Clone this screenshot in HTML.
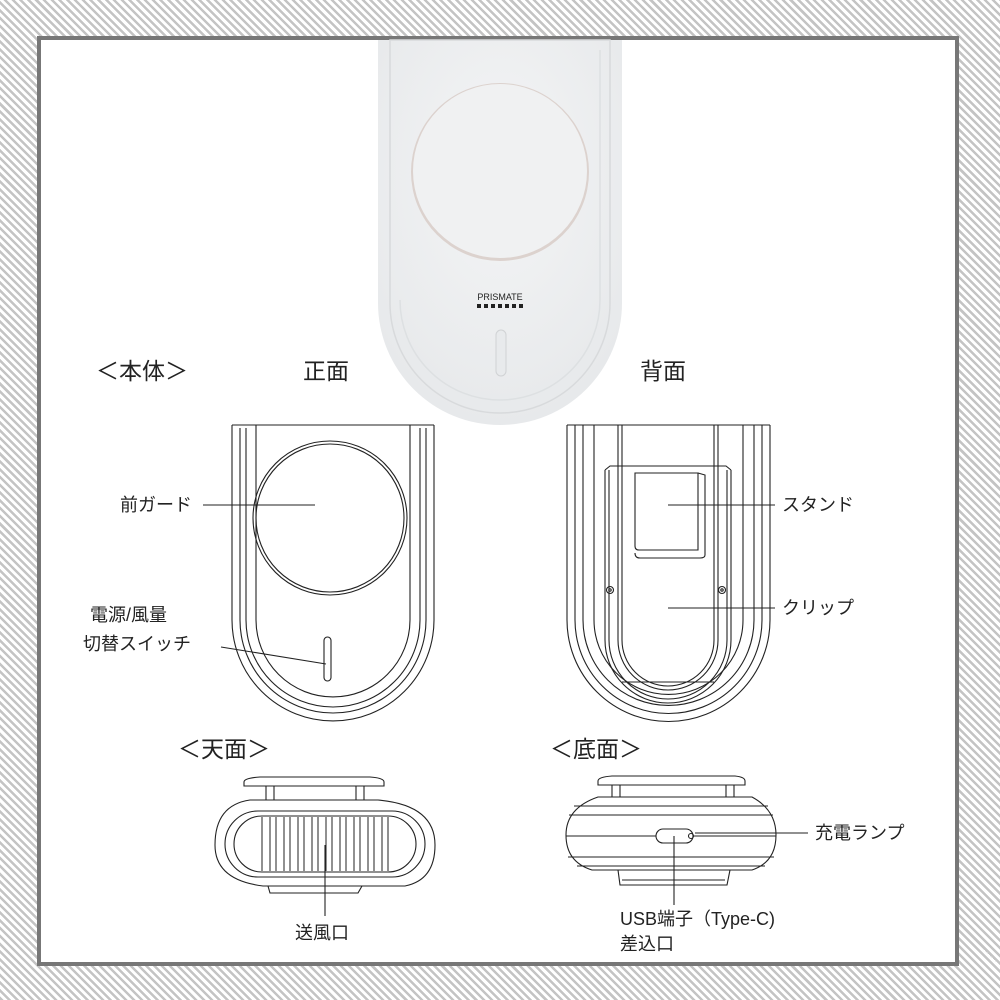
<!DOCTYPE html>
<html><head><meta charset="utf-8"><style>
html,body{margin:0;padding:0;}
body{width:1000px;height:1000px;position:relative;overflow:hidden;
background:repeating-linear-gradient(45deg,#c4c4c4 0 2.5px,#fff 2.5px 5.5px);}
.frame{position:absolute;left:37px;top:36px;width:914px;height:922px;border:4px solid #777;background:#fff;}
svg{position:absolute;left:0;top:0;}
text{font-family:"Liberation Sans","Noto Sans CJK JP",sans-serif;fill:#222;}
</style></head><body>
<div class="frame"></div>
<svg width="1000" height="1000" viewBox="0 0 1000 1000">
<defs>
<radialGradient id="ph" cx="50%" cy="35%" r="70%"><stop offset="0" stop-color="#f4f5f6"/><stop offset="1" stop-color="#e6e8ea"/></radialGradient>
</defs>
<path d="M378 40 L622 40 L622 303 A122 122 0 0 1 378 303 Z" fill="url(#ph)"/>
<path d="M390 40 L610 40 L610 303 A110 110 0 0 1 390 303 Z" fill="none" stroke="#d8dadc" stroke-width="1.5"/>
<path d="M600 50 L600 300 A100 100 0 0 1 400 300" fill="none" stroke="#dde0e2" stroke-width="1.5"/>
<circle cx="500" cy="172" r="89" fill="#dcd2ce"/>
<circle cx="500" cy="171" r="87" fill="#f0f1f2"/>
<text x="500" y="300" font-size="9" text-anchor="middle" fill="#222">PRISMATE</text>
<g fill="#222"><rect x="477" y="304" width="4" height="4"/><rect x="484" y="304" width="4" height="4"/><rect x="491" y="304" width="4" height="4"/><rect x="498" y="304" width="4" height="4"/><rect x="505" y="304" width="4" height="4"/><rect x="512" y="304" width="4" height="4"/><rect x="519" y="304" width="4" height="4"/></g>
<rect x="496" y="330" width="10" height="46" rx="5" fill="#e8eaec" stroke="#d0d2d4"/>

<g fill="none" stroke="#222" stroke-width="1.1">
<!-- front -->
<path d="M232 425 L232 620 A101 101 0 0 0 434 620 L434 425"/>
<path d="M240 428 L240 620 A93 93 0 0 0 426 620 L426 428"/>
<path d="M246 428 L246 620 A87 87 0 0 0 420 620 L420 428"/>
<path d="M256 425 L256 620 A77 77 0 0 0 410 620 L410 425"/>
<line x1="232" y1="425" x2="434" y2="425"/>
<circle cx="330" cy="518" r="77"/>
<circle cx="330" cy="518" r="74"/>
<rect x="324" y="637" width="7" height="44" rx="3.5"/>
<line x1="203" y1="505" x2="315" y2="505"/>
<line x1="221" y1="647" x2="326" y2="664"/>
<!-- back -->
<path d="M567 425 L567 620 A101.5 101.5 0 0 0 770 620 L770 425"/>
<path d="M575 425 L575 620 A93.5 93.5 0 0 0 762 620 L762 425"/>
<path d="M583 425 L583 620 A85.5 85.5 0 0 0 754 620 L754 425"/>
<path d="M594 425 L594 620 A74.5 74.5 0 0 0 743 620 L743 425"/>
<line x1="567" y1="425" x2="770" y2="425"/>
<path d="M605 470 L605 640 A63 63 0 0 0 731 640 L731 470"/>
<path d="M605 470 L610 466 L726 466 L731 470"/>
<path d="M609 470 L609 640 A59 59 0 0 0 727 640 L727 470"/>
<path d="M618 425 L618 640 A50 50 0 0 0 718 640 L718 425"/>
<path d="M622 425 L622 640 A46 46 0 0 0 714 640 L714 425"/>
<line x1="622" y1="682" x2="714" y2="682"/>
<path d="M635 473 L698 473 L698 550 L639 550 Q635 550 635 546 Z"/>
<path d="M698 473 L705 475 L705 555 Q705 558 700 558 L640 558 Q635 558 635 553"/>
<circle cx="610" cy="590" r="3.5"/><circle cx="610" cy="590" r="1.2"/>
<circle cx="722" cy="590" r="3.5"/><circle cx="722" cy="590" r="1.2"/>
<line x1="668" y1="505" x2="775" y2="505"/>
<line x1="668" y1="608" x2="775" y2="608"/>
<!-- top view -->
<path d="M244 782 Q244 778 260 777 L370 777 Q384 778 384 782 L384 786 L244 786 Z"/>
<path d="M266 786 L266 800 M274 786 L274 800 M356 786 L356 800 M364 786 L364 800"/>
<path d="M250 800 L378 800 Q435 805 435 845 Q435 880 405 886 L263 886 Q215 880 215 845 Q215 805 250 800 Z"/>
<path d="M258 811 L392 811 A33 33 0 0 1 392 877 L258 877 A33 33 0 0 1 258 811 Z"/>
<path d="M262 816 L388 816 A28 28 0 0 1 388 872 L262 872 A28 28 0 0 1 262 816 Z"/>
<g stroke-width="1">
<path d="M262 817 V871 M270 817 V871 M276 817 V871 M284 817 V871 M290 817 V871 M298 817 V871 M304 817 V871 M312 817 V871 M318 817 V871 M326 817 V871 M332 817 V871 M340 817 V871 M346 817 V871 M354 817 V871 M360 817 V871 M368 817 V871 M374 817 V871 M382 817 V871 M388 817 V871"/>
</g>
<path d="M268 886 L270 893 L358 893 L362 886"/>
<line x1="325" y1="845" x2="325" y2="916"/>
<!-- bottom view -->
<path d="M598 781 Q598 777 612 776 L735 776 Q745 777 745 781 L745 785 L598 785 Z"/>
<path d="M612 785 L612 797 M620 785 L620 797 M726 785 L726 797 M734 785 L734 797"/>
<path d="M598 797 L752 797 Q776 810 776 835 Q776 862 752 870 L592 870 Q566 862 566 835 Q566 808 598 797 Z"/>
<line x1="574" y1="806" x2="768" y2="806"/>
<line x1="569" y1="815" x2="773" y2="815"/>
<line x1="566" y1="836" x2="656" y2="836"/><line x1="693" y1="836" x2="776" y2="836"/>
<line x1="568" y1="857" x2="774" y2="857"/>
<line x1="577" y1="866" x2="765" y2="866"/>
<rect x="656" y="829" width="37" height="14" rx="7"/>
<circle cx="691" cy="836" r="2.5"/>
<path d="M618 870 L620 885 L727 885 L730 870"/>
<line x1="622" y1="880" x2="725" y2="880"/>
<line x1="674" y1="836" x2="674" y2="905"/>
<line x1="695" y1="833" x2="808" y2="833"/>
</g>

<g font-size="23">
<text x="96" y="379">＜本体＞</text>
<text x="303" y="379">正面</text>
<text x="640" y="379">背面</text>
<text x="178" y="757">＜天面＞</text>
<text x="550" y="757">＜底面＞</text>
</g>
<g font-size="18">
<text x="120" y="511">前ガード</text>
<text x="90" y="621">電源/風量</text>
<text x="83" y="650">切替スイッチ</text>
<text x="782" y="511">スタンド</text>
<text x="782" y="614">クリップ</text>
<text x="815" y="839">充電ランプ</text>
<text x="295" y="939">送風口</text>
<text x="620" y="925">USB端子（Type-C)</text>
<text x="620" y="950">差込口</text>
</g>
</svg>
</body></html>
